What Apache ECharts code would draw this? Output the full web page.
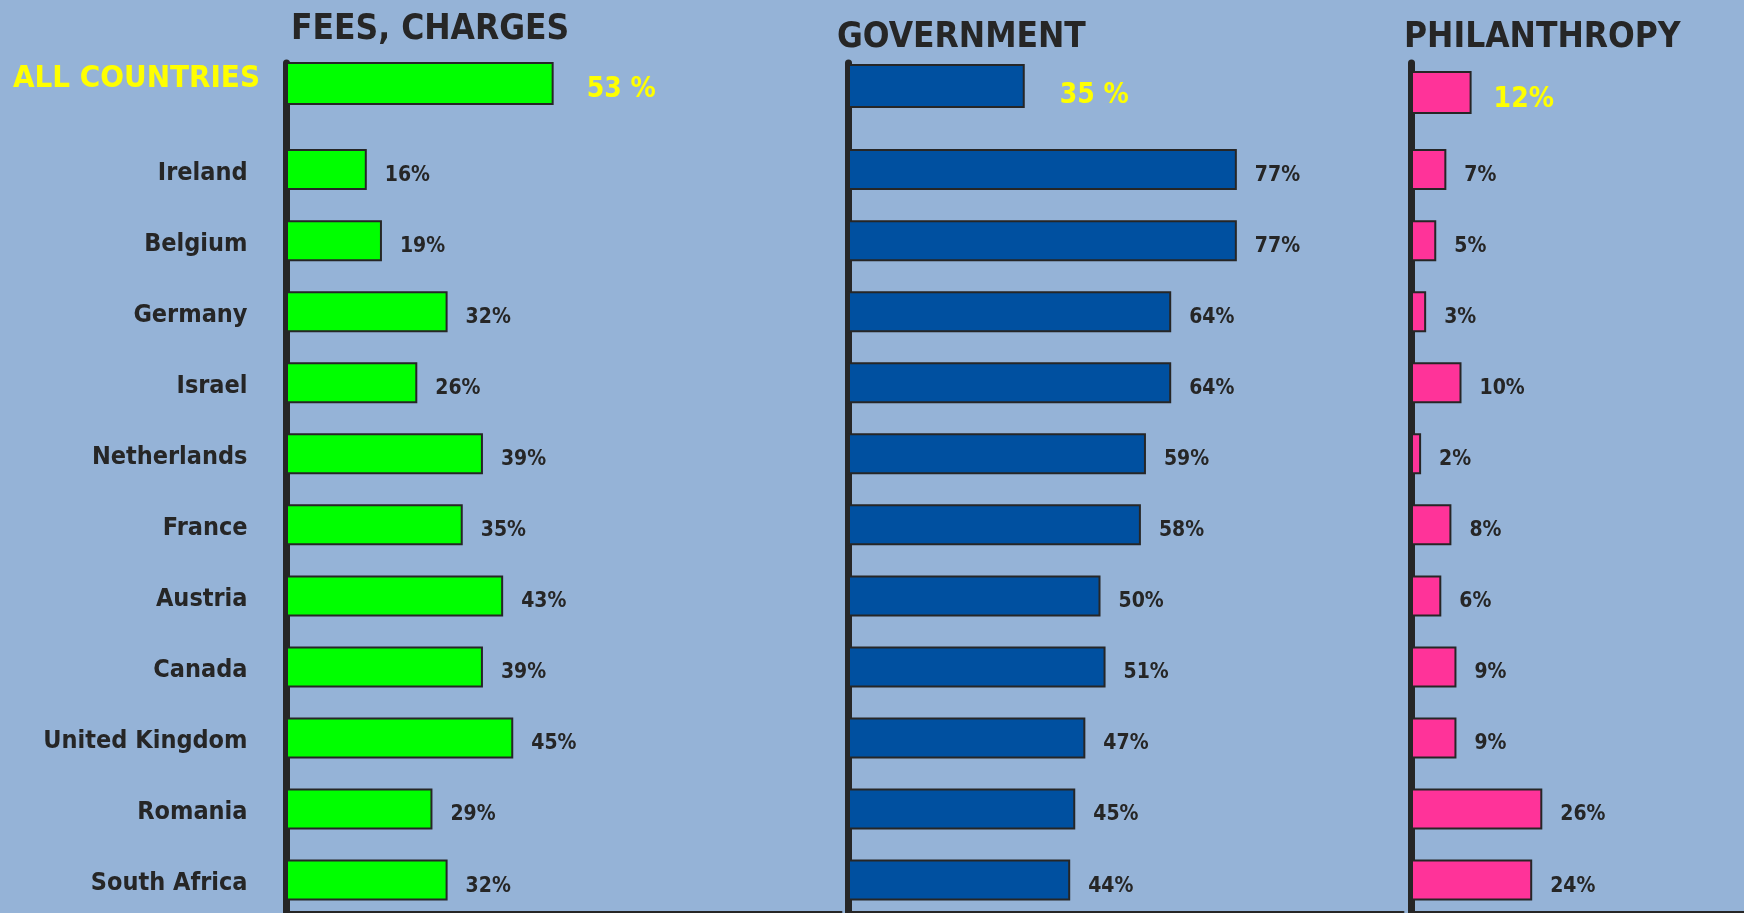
<!DOCTYPE html>
<html>
<head>
<meta charset="utf-8">
<script src="https://cdn.jsdelivr.net/npm/echarts@6/dist/echarts.min.js"></script>
<style>
  html, body { margin: 0; padding: 0; background: #95b3d7; }
  #main { width: 1744px; height: 913px; }
</style>
</head>
<body>
<div id="main"></div>
<script>
var countries = ["Ireland", "Belgium", "Germany", "Israel", "Netherlands", "France",
  "Austria", "Canada", "United Kingdom", "Romania", "South Africa"];
var fees = [16, 19, 32, 26, 39, 35, 43, 39, 45, 29, 32];
var government = [77, 77, 64, 64, 59, 58, 50, 51, 47, 45, 44];
var philanthropy = [7, 5, 3, 10, 2, 8, 6, 9, 9, 26, 24];
var panelTitles = ["FEES, CHARGES", "GOVERNMENT", "PHILANTHROPY"];
var allLabel = "ALL COUNTRIES";
var allCountries = [53, 35, 12];

var chart = echarts.init(document.getElementById("main"));
var font = "'Liberation Sans Narrow', 'Arial Narrow', 'DejaVu Sans Condensed', sans-serif";
var dark = "#262626";
var colors = ["#00ff00", "#0050a0", "#ff3399"];
var lefts = [286, 848, 1411];
var maxes = [110, 110, 66];
var pxPer = 5.05;
var topGrid = [[61, 45], [63, 46], [70, 45]];
var titleLeft = [286, 832, 1399];
var titleTop = [7, 15, 15];
var allDist = [33, 35, 22];
var allOffset = [6, 10, 7];
var allFmt = ["{c} %", "{c} %", "{c}%"];
var values = [fees, government, philanthropy];

var grids = [], xAxes = [], yAxes = [], series = [], titles = [];
var cats = [""].concat(countries);

for (var i = 0; i < 3; i++) {
  var w = maxes[i] * pxPer;
  // main grid, first slot stays empty for the "all countries" row
  grids.push({ left: lefts[i], top: 63, width: w, height: 12 * 71.05, outerBoundsMode: "none" });
  // small grid holding the all countries bar
  grids.push({ left: lefts[i], top: topGrid[i][0], width: w, height: topGrid[i][1], outerBoundsMode: "none" });

  xAxes.push({
    gridIndex: 2 * i, type: "value", min: 0, max: maxes[i], offset: -4,
    axisLine: { show: true, lineStyle: { color: dark, width: 2 } },
    axisTick: { show: false }, axisLabel: { show: false }, splitLine: { show: false }
  });
  xAxes.push({
    gridIndex: 2 * i + 1, type: "value", min: 0, max: maxes[i], show: false
  });

  yAxes.push({
    gridIndex: 2 * i, type: "category", inverse: true, data: cats, offset: 3.5,
    axisLine: { show: true, lineStyle: { color: dark, width: 7 } },
    axisTick: { show: false },
    axisLabel: {
      show: i === 0, margin: 35, color: dark, fontFamily: font,
      fontWeight: "bold", fontSize: 25, verticalAlign: "top", lineHeight: 7
    }
  });
  yAxes.push({
    gridIndex: 2 * i + 1, type: "category", data: [allLabel],
    axisLine: { show: false }, axisTick: { show: false },
    axisLabel: {
      show: i === 0, margin: 26, color: "#ffff00", fontFamily: font,
      fontWeight: "bold", fontSize: 31, verticalAlign: "bottom", lineHeight: 10
    }
  });

  series.push({
    type: "bar", xAxisIndex: 2 * i, yAxisIndex: 2 * i,
    data: ["-"].concat(values[i]), barWidth: 41,
    itemStyle: { color: colors[i], borderColor: dark, borderWidth: 2 },
    label: {
      show: true, position: "right", distance: 18, offset: [0, 6],
      formatter: "{c}%", color: dark, fontFamily: font, fontWeight: "bold", fontSize: 21
    },
    animation: false
  });
  series.push({
    type: "bar", xAxisIndex: 2 * i + 1, yAxisIndex: 2 * i + 1,
    data: [allCountries[i]], barWidth: topGrid[i][1] - 2,
    itemStyle: { color: colors[i], borderColor: dark, borderWidth: 2 },
    label: {
      show: true, position: "right", distance: allDist[i], offset: [0, allOffset[i]],
      formatter: allFmt[i], color: "#ffff00", fontFamily: font, fontWeight: "bold", fontSize: 28
    },
    animation: false
  });

  titles.push({
    text: panelTitles[i], left: titleLeft[i], top: titleTop[i],
    textStyle: { color: dark, fontFamily: font, fontWeight: "bold", fontSize: 35 }
  });
}

var option = {
  backgroundColor: "#95b3d7",
  animation: false,
  title: titles,
  grid: grids,
  xAxis: xAxes,
  yAxis: yAxes,
  series: series
};
chart.setOption(option);
</script>
</body>
</html>
